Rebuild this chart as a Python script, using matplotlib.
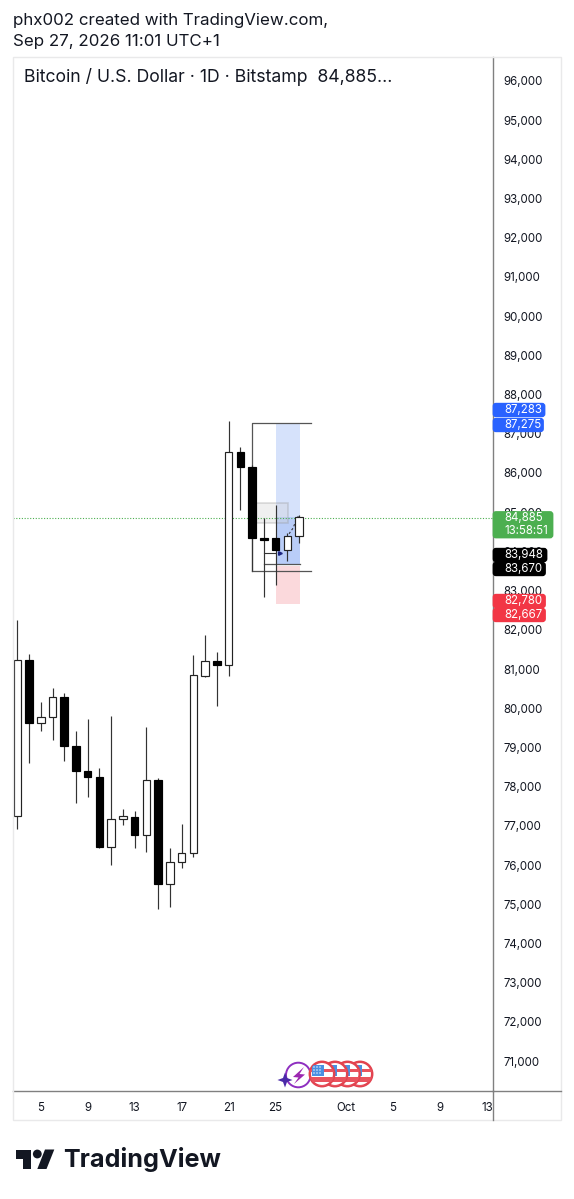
import matplotlib
matplotlib.use('Agg')
import matplotlib.pyplot as plt
from matplotlib.patches import Rectangle, Circle, FancyBboxPatch, Polygon

plt.rcParams['font.family'] = ['Inter', 'DejaVu Sans']

# daily candles, day number counted from Sep 1 (Oct 1 = 31)
days = list(range(3, 28))
opens = [77250, 81230, 79623, 79776, 80286, 79043, 78400, 78237, 76467, 77174, 77232, 76765, 78161,
         75523, 76084, 76299, 80822, 81204, 81102, 86543, 86161, 84350, 84335, 84036, 84393]
highs = [82250, 81383, 80158, 80508, 80380, 79418, 79717, 78482, 79801, 77436, 77378, 79528, 78212,
         76426, 77046, 81350, 81867, 81426, 87334, 86671, 86200, 84860, 85184, 84477, 84925]
lows = [76910, 78610, 79426, 79189, 78646, 77574, 77727, 76434, 76000, 77028, 76441, 76332, 74870,
        74929, 75924, 76197, 80796, 80056, 80822, 85056, 83500, 82844, 83143, 83755, 84222]
closes = [81230, 79623, 79783, 80294, 79036, 78398, 78237, 76467, 77181, 77242, 76765, 78161, 75515,
          76084, 76299, 80839, 81204, 81102, 86543, 86161, 84350, 84300, 84036, 84393, 84885]

price_ticks = list(range(71000, 97000, 1000))
time_ticks = [5, 9, 13, 17, 21, 25, 31, 35, 39, 43]
time_labels = ['5', '9', '13', '17', '21', '25', 'Oct', '5', '9', '13']

last_price = 84885
target_top = 87283
entry = 83670
stop = 82667
bracket_low = 83500

# axis badges: text, fill, centre y in px, right edge in px
badges = [('87,283', '#2962FF', 410, 546), ('87,275', '#2962FF', 425, 544.5),
          ('83,948', '#000000', 555, 548), ('83,670', '#000000', 569, 546.5),
          ('82,780', '#F23645', 601, 546.5), ('82,667', '#F23645', 615, 546.5)]

W, H = 574, 1199
fig = plt.figure(figsize=(W / 100, H / 100), dpi=100, facecolor='white')

# main chart area: x 13-493, y 57-1091 in pixels
ax = fig.add_axes([13 / W, 1 - 1091 / H, 480 / W, 1034 / H])
ax.set_xlim(2.634, 43.52)
ax.set_ylim(70235, 96612)
for s in ['top', 'left']:
    ax.spines[s].set_visible(False)
for s in ['right', 'bottom']:
    ax.spines[s].set_color('#808080')
    ax.spines[s].set_linewidth(1)
ax.yaxis.tick_right()
ax.set_yticks(price_ticks)
ax.set_yticklabels([f'{p:,}' for p in price_ticks], fontsize=8.3, color='#131722')
ax.set_xticks(time_ticks)
ax.set_xticklabels(time_labels, fontsize=8.3, color='#131722')
ax.tick_params(axis='y', length=0, pad=7.5)
ax.tick_params(axis='x', length=0, pad=8)

# position tool
ax.fill_between([25, 27.05], last_price, target_top, color='#d6e2fb', lw=0, zorder=1)
ax.fill_between([25, 27.05], entry, last_price, color='#b9cdf8', lw=0, zorder=1)
ax.fill_between([25, 27.05], stop, entry - 40, color='#fbd9dc', lw=0, zorder=1)
ax.add_patch(Rectangle((23.3, 84732), 2.73, 510, fc='#d0d0d0', ec='#8f8f8f', alpha=0.3, lw=1.2, zorder=1.5))
ax.plot([23, 23, 27.99], [bracket_low, target_top, target_top], color='#555555', lw=0.9, zorder=2)
ax.plot([23, 27.99], [bracket_low, bracket_low], color='#555555', lw=0.9, zorder=2)
ax.plot([24, 27.05], [entry, entry], color='#555555', lw=0.9, zorder=2)
ax.plot([24, 25], [83950, 83950], color='#333333', lw=0.8, zorder=2)
ax.axhline(last_price - 40, color='#4CAF50', lw=0.8, ls=(0, (1, 1.5)), zorder=2)

# small path marks between the last candles
ax.plot([25.4], [83950], marker='>', ms=2.6, color='#1a237e', zorder=5)
ax.plot([26.15, 26.5, 26.75, 27], [84450, 84600, 84800, 84930], color='#333333', lw=0.8, ls=(0, (2, 2)), zorder=3)

# candles
for d, o, h, l, c in zip(days, opens, highs, lows, closes):
    up = c >= o
    ax.vlines(d, l, h, color='#333333', lw=0.85, zorder=3)
    ax.bar(d, abs(c - o), bottom=min(o, c), width=0.64,
           facecolor='white' if up else 'black', edgecolor='#222222' if up else 'black',
           linewidth=0.85, zorder=4)

# overlay in pixel coordinates for badges, header, icons and logo
ov = fig.add_axes([0, 0, 1, 1], facecolor='none')
ov.set_xlim(0, W)
ov.set_ylim(H, 0)
ov.axis('off')

# panel border
ov.add_patch(Rectangle((13, 57), 548, 1063, fc='none', ec='#e9e9ea', lw=1))
ov.plot([493, 493], [1091, 1120], color='#808080', lw=1)
ov.plot([493, 561], [1091, 1091], color='#808080', lw=1)


def badge(txt, col, yc, right, h=13.6):
    ov.add_patch(FancyBboxPatch((494, yc - h / 2 + 1), right - 496, h - 2, boxstyle='round,pad=0,rounding_size=2',
                                fc=col, ec=col, lw=2, zorder=5))
    ov.text(504, yc, txt, color='white', fontsize=8.3, va='center', ha='left', zorder=6)


for txt, col, yc, right in badges:
    badge(txt, col, yc, right)

ov.add_patch(FancyBboxPatch((494, 512.5), 58, 24.5, boxstyle='round,pad=0,rounding_size=2',
                            fc='#4CAF50', ec='#4CAF50', lw=2, zorder=5))
ov.text(504, 518, f'{last_price:,}', color='white', fontsize=8.3, va='center', zorder=6)
ov.text(504, 530.5, '13:58:51', color='white', fontsize=8.3, va='center', zorder=6)

# header
ov.text(13, 20, 'phx002 created with TradingView.com,', fontsize=12.2, color='#131722', va='center')
ov.text(13, 41.5, 'Sep 27, 2026 11:01 UTC+1', fontsize=12.2, color='#131722', va='center')
ov.text(24, 76.5, 'Bitcoin / U.S. Dollar · 1D · Bitstamp  84,885...', fontsize=12.7, color='#131722', va='center')

# event icons
ov.add_patch(Circle((298.3, 1075), 12.3, fc='white', ec='#8e2fc0', lw=1.4, zorder=3))
ov.add_patch(Polygon([(304, 1067), (293, 1077), (298.5, 1077.5), (294, 1084), (305, 1074.5), (299.5, 1074)],
                     fc='#9c27b0', ec='none', zorder=4))
ov.add_patch(Polygon([(285, 1072.5), (287, 1078), (292.5, 1080), (287, 1082), (285, 1087.5), (283, 1082), (277.5, 1080), (283, 1078)],
                     fc='#4a2aa8', ec='none', zorder=5))
for i, cx in enumerate([360, 347.5, 335, 322]):
    z = 6 + i
    ring = Circle((cx, 1074), 12.2, fc='white', ec='#e2434f', lw=1.8, zorder=z)
    ov.add_patch(ring)
    for sy, sh in [(1069, 3), (1077, 4.5), (1085, 4)]:
        st = Rectangle((cx - 13, sy), 26, sh, fc='#e9535e', ec='none', zorder=z)
        ov.add_patch(st)
        st.set_clip_path(ring)
    canton = Rectangle((cx - 10, 1064.5), 12, 11, fc='#4a90e2', ec='none', zorder=z)
    ov.add_patch(canton)
    canton.set_clip_path(ring)
# dots on the front flag canton
for dx in [314, 317, 320]:
    for dy in [1067, 1070, 1073]:
        ov.add_patch(Circle((dx, dy), 0.7, fc='white', ec='none', zorder=10))

# logo
ov.add_patch(Polygon([(15.5, 1149.5), (31, 1149.5), (31, 1169), (22.7, 1169), (22.7, 1158.5), (15.5, 1158.5)], fc='#131722', ec='none'))
ov.add_patch(Circle((37.3, 1154), 4.4, fc='#131722', ec='none'))
ov.add_patch(Polygon([(45, 1149.5), (54.3, 1149.5), (46.5, 1169), (37.3, 1169)], fc='#131722', ec='none'))
ov.text(63.5, 1160, 'TradingView', fontsize=18.1, fontweight='bold', color='#131722', va='center')

fig.savefig('out.png', dpi=100, facecolor='white')
